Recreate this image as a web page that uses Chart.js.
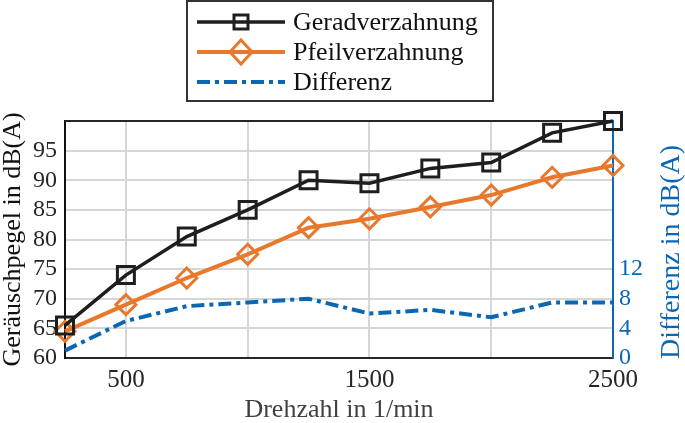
<!DOCTYPE html>
<html>

<head>
  <meta charset="utf-8">
  <title>Geräuschpegel</title>
  <script src="https://cdn.jsdelivr.net/npm/chart.js@4"></script>
  <style>
    html, body { margin: 0; padding: 0; background: #fff; }
    #wrap { width: 685px; height: 423px; }
  </style>
</head>

<body>
  <div id="wrap"><canvas id="chart" width="685" height="423"></canvas></div>

  <script>
    // data
    const drehzahl = [250, 500, 750, 1000, 1250, 1500, 1750, 2000, 2250, 2500];
    const gerad = [65.5, 74, 80.5, 85, 90, 89.5, 92, 93, 98, 100];
    const pfeil = [64.5, 69, 73.5, 77.5, 82, 83.5, 85.5, 87.5, 90.5, 92.5];
    const differenz = [1, 5, 7, 7.5, 8, 6, 6.5, 5.5, 7.5, 7.5];
    const xTicks = [500, 1000, 1500, 2000, 2500];
    const xLabels = [500, 1500, 2500];
    const rightLabels = [0, 4, 8, 12];

    const FONT = 'Liberation Serif';
    const BLACK = '#1e1e1e';
    const ORANGE = '#e8792c';
    const BLUE = '#0b67b4';
    const AXIS = '#262626';

    const pts = (ys) => drehzahl.map((x, i) => ({ x: x, y: ys[i] }));

    // legend box, top frame line and right title drawn by hand
    const frameLegend = {
      id: 'frameLegend',
      beforeDatasetsDraw(chart) {
        const { ctx, chartArea: a } = chart;
        ctx.save();
        ctx.strokeStyle = AXIS;
        ctx.lineWidth = 2;
        ctx.beginPath();
        ctx.moveTo(a.left, a.top);
        ctx.lineTo(a.right, a.top);
        ctx.stroke();
        // right axis title, reading bottom to top like the left one
        ctx.translate(672, 252);
        ctx.rotate(-Math.PI / 2);
        ctx.fillStyle = BLUE;
        ctx.font = '28px ' + FONT;
        ctx.textAlign = 'center';
        ctx.textBaseline = 'middle';
        ctx.fillText('Differenz in dB(A)', 0, 0);
        ctx.restore();
      },
      afterDraw(chart) {
        const ctx = chart.ctx;
        ctx.save();
        ctx.fillStyle = '#fff';
        ctx.fillRect(187, 1, 306, 100);
        ctx.strokeStyle = '#333';
        ctx.lineWidth = 2;
        ctx.strokeRect(187, 1, 306, 100);
        const rows = [22, 52, 82];
        chart.data.datasets.forEach((ds, i) => {
          const y = rows[i];
          ctx.strokeStyle = ds.borderColor;
          ctx.lineWidth = ds.borderWidth;
          ctx.setLineDash(ds.borderDash || []);
          ctx.beginPath();
          ctx.moveTo(197, y);
          ctx.lineTo(285, y);
          ctx.stroke();
          ctx.setLineDash([]);
          ctx.lineWidth = ds.pointBorderWidth;
          if (ds.pointStyle === 'rect') {
            ctx.strokeRect(241 - 7, y - 7, 14, 14);
          } else if (ds.pointStyle === 'rectRot') {
            ctx.beginPath();
            ctx.moveTo(241, y - 12);
            ctx.lineTo(252, y);
            ctx.lineTo(241, y + 12);
            ctx.lineTo(230, y);
            ctx.closePath();
            ctx.stroke();
          }
          ctx.fillStyle = '#111';
          ctx.font = '26px ' + FONT;
          ctx.textBaseline = 'middle';
          ctx.fillText(ds.label, 293, y + 1);
        });
        ctx.restore();
      }
    };

    new Chart(document.getElementById('chart'), {
      type: 'line',
      data: {
        datasets: [{
          label: 'Geradverzahnung',
          data: pts(gerad),
          yAxisID: 'y',
          borderColor: BLACK,
          borderWidth: 3.5,
          pointStyle: 'rect',
          pointRadius: 12,
          pointBorderWidth: 3,
          pointBorderColor: BLACK,
          pointBackgroundColor: 'rgba(0,0,0,0)',
          clip: false,
        }, {
          label: 'Pfeilverzahnung',
          data: pts(pfeil),
          yAxisID: 'y',
          borderColor: ORANGE,
          borderWidth: 4,
          pointStyle: 'rectRot',
          pointRadius: 10,
          pointBorderWidth: 3,
          pointBorderColor: ORANGE,
          pointBackgroundColor: 'rgba(0,0,0,0)',
          clip: false,
        }, {
          label: 'Differenz',
          data: pts(differenz),
          yAxisID: 'y2',
          borderColor: BLUE,
          borderWidth: 4,
          borderDash: [13, 5, 4, 5],
          pointRadius: 0,
          clip: false,
        }],
      },
      options: {
        responsive: false,
        animation: false,
        layout: { padding: { top: 121 } },
        plugins: { legend: { display: false }, tooltip: { enabled: false } },
        scales: {
          x: {
            type: 'linear',
            min: 250,
            max: 2500,
            afterBuildTicks: (s) => { s.ticks = xTicks.map(v => ({ value: v })); },
            afterFit: (s) => { s.height = 65; },
            ticks: {
              autoSkip: false,
              maxRotation: 0,
              padding: 7,
              color: AXIS,
              font: { family: FONT, size: 25 },
              callback: (v) => xLabels.includes(v) ? String(v) : '',
            },
            grid: { color: '#d6d6d6', lineWidth: 2, drawTicks: false },
            border: { color: AXIS, width: 2 },
            title: {
              display: true,
              text: 'Drehzahl in 1/min',
              color: '#404040',
              font: { family: FONT, size: 26 },
              padding: { top: 0, bottom: -3 },
            },
          },
          y: {
            position: 'left',
            min: 60,
            max: 100,
            afterFit: (s) => { s.width = 65; },
            ticks: {
              autoSkip: false,
              stepSize: 5,
              padding: 8,
              color: AXIS,
              font: { family: FONT, size: 24 },
              callback: (v) => v === 100 ? '' : String(v),
            },
            grid: { color: '#d6d6d6', lineWidth: 2, drawTicks: false },
            border: { color: '#111', width: 2 },
            title: {
              display: true,
              text: 'Geräuschpegel in dB(A)',
              color: '#111',
              font: { family: FONT, size: 26 },
              padding: { top: -2, bottom: 0 },
            },
          },
          y2: {
            position: 'right',
            min: 0,
            max: 32,
            afterFit: (s) => { s.width = 72; },
            ticks: {
              autoSkip: false,
              stepSize: 4,
              padding: 6,
              color: BLUE,
              font: { family: FONT, size: 24 },
              callback: (v) => rightLabels.includes(v) ? String(v) : '',
            },
            grid: { display: false, drawTicks: false },
            border: { color: BLUE, width: 2 },
          },
        },
      },
      plugins: [frameLegend],
    });
  </script>
</body>

</html>
